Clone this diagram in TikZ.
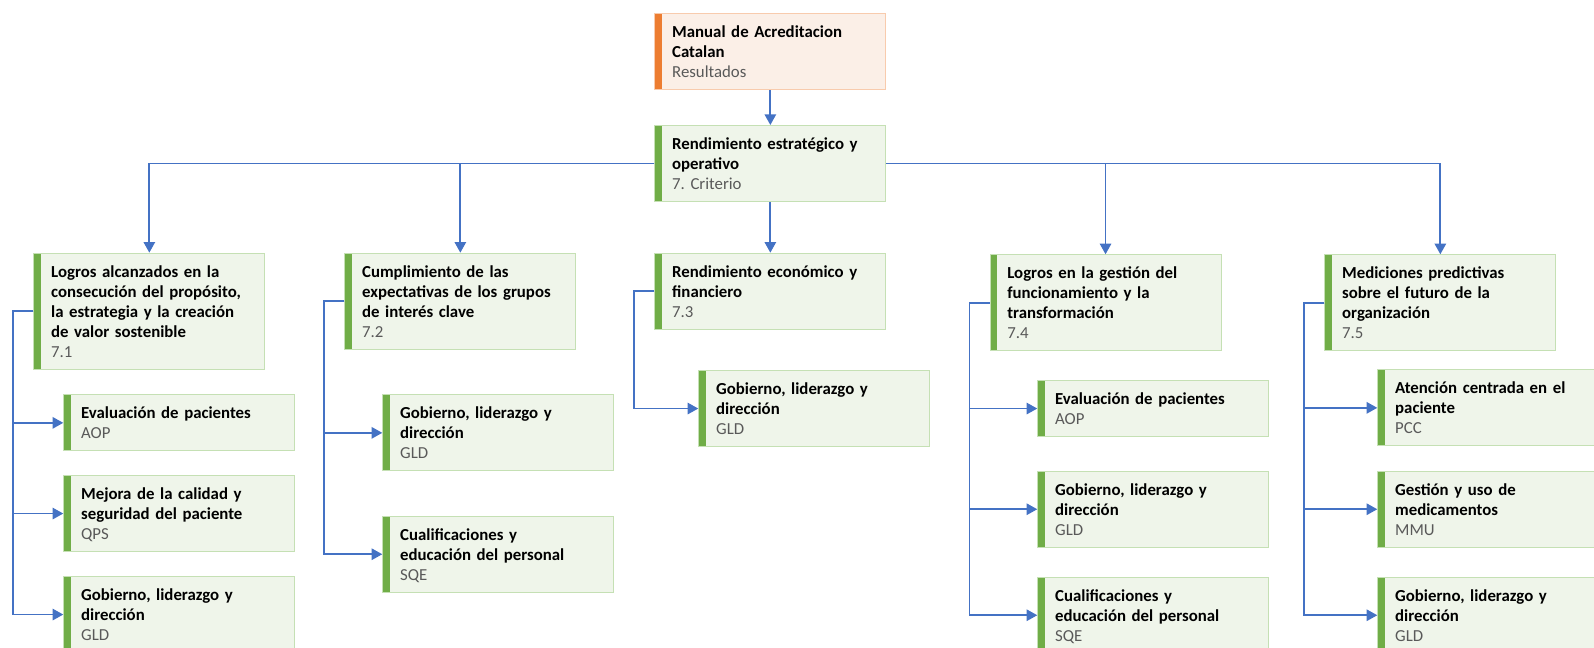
\documentclass[tikz,border=0pt]{standalone}
\usepackage{fontspec}
\setmainfont{Carlito}
\usetikzlibrary{arrows.meta}
\definecolor{obar}{HTML}{ED7D31}
\definecolor{ofill}{HTML}{FBEFE7}
\definecolor{oline}{HTML}{F8CBAD}
\definecolor{gbar}{HTML}{70AD47}
\definecolor{gfill}{HTML}{EFF5EA}
\definecolor{gline}{HTML}{C5E0B4}
\definecolor{conncol}{HTML}{4472C4}
\definecolor{subcol}{HTML}{595959}
\newcommand\myStrut{\rule[-3pt]{0pt}{15pt}}
\newcommand\Tline[1]{\myStrut\textbf{#1}}
\newcommand\Sline[1]{\myStrut\textcolor{subcol}{#1}}
\tikzset{
  card/.style={anchor=north west, inner xsep=13pt, inner ysep=0pt,
    text width=147.25pt, minimum width=173.25pt, align=left,
    font=\fontsize{12.6}{15}\selectfont\frenchspacing, line width=0.8pt},
  gbox/.style={card, fill=gfill, draw=gline,
    path picture={\fill[gbar] (path picture bounding box.north west) rectangle ([xshift=5pt]path picture bounding box.south west);}},
  obox/.style={card, fill=ofill, draw=oline,
    path picture={\fill[obar] (path picture bounding box.north west) rectangle ([xshift=5pt]path picture bounding box.south west);}},
  h2/.style={minimum height=42pt},
  h3/.style={minimum height=57pt},
  h4/.style={minimum height=72pt},
  h5/.style={minimum height=87pt},
  conn/.style={draw=conncol, line width=1.4pt, -{Triangle[width=8.5pt,length=8pt]}}
}
\begin{document}
\begin{tikzpicture}[x=0.75pt,y=-0.75pt]
\useasboundingbox (0,0) rectangle (1594,647);
% top
\node[obox,h3] (T) at (654.3,13.3) {\Tline{Manual de Acreditacion}\\\Tline{Catalan}\\\Sline{Resultados}};
\node[gbox,h3] (R) at (654.3,125) {\Tline{Rendimiento estratégico y}\\\Tline{operativo}\\\Sline{7. Criterio}};
% level 2
\node[gbox,h5] (A) at (33.3,252.7) {\Tline{Logros alcanzados en la}\\\Tline{consecución del propósito,}\\\Tline{la estrategia y la creación}\\\Tline{de valor sostenible}\\\Sline{7.1}};
\node[gbox,h4] (B) at (344.3,252.7) {\Tline{Cumplimiento de las}\\\Tline{expectativas de los grupos}\\\Tline{de interés clave}\\\Sline{7.2}};
\node[gbox,h3] (C) at (654.3,252.7) {\Tline{Rendimiento económico y}\\\Tline{financiero}\\\Sline{7.3}};
\node[gbox,h4] (D) at (989.5,254.3) {\Tline{Logros en la gestión del}\\\Tline{funcionamiento y la}\\\Tline{transformación}\\\Sline{7.4}};
\node[gbox,h4] (E) at (1324.3,254.3) {\Tline{Mediciones predictivas}\\\Tline{sobre el futuro de la}\\\Tline{organización}\\\Sline{7.5}};
% children of A
\node[gbox,h2] (A1) at (63.3,394.3) {\Tline{Evaluación de pacientes}\\\Sline{AOP}};
\node[gbox,h3] (A2) at (63.3,475) {\Tline{Mejora de la calidad y}\\\Tline{seguridad del paciente}\\\Sline{QPS}};
\node[gbox,h3] (A3) at (63.3,576) {\Tline{Gobierno, liderazgo y}\\\Tline{dirección}\\\Sline{GLD}};
% children of B
\node[gbox,h3] (B1) at (382.3,394.3) {\Tline{Gobierno, liderazgo y}\\\Tline{dirección}\\\Sline{GLD}};
\node[gbox,h3] (B2) at (382.3,515.7) {\Tline{Cualificaciones y}\\\Tline{educación del personal}\\\Sline{SQE}};
% child of C
\node[gbox,h3] (C1) at (698.3,370) {\Tline{Gobierno, liderazgo y}\\\Tline{dirección}\\\Sline{GLD}};
% children of D
\node[gbox,h2] (D1) at (1037.3,380) {\Tline{Evaluación de pacientes}\\\Sline{AOP}};
\node[gbox,h3] (D2) at (1037.3,470.7) {\Tline{Gobierno, liderazgo y}\\\Tline{dirección}\\\Sline{GLD}};
\node[gbox,h3] (D3) at (1037.3,576.7) {\Tline{Cualificaciones y}\\\Tline{educación del personal}\\\Sline{SQE}};
% children of E
\node[gbox,h3] (E1) at (1377.3,369.3) {\Tline{Atención centrada en el}\\\Tline{paciente}\\\Sline{PCC}};
\node[gbox,h3] (E2) at (1377.3,470.7) {\Tline{Gestión y uso de}\\\Tline{medicamentos}\\\Sline{MMU}};
\node[gbox,h3] (E3) at (1377.3,576.7) {\Tline{Gobierno, liderazgo y}\\\Tline{dirección}\\\Sline{GLD}};
% connectors
\draw[conn] (T.south) -- (R.north);
\draw[conn] (R.west) -| (A.north);
\draw[conn] (R.west) -| (B.north);
\draw[conn] (R.south) -- (C.north);
\draw[conn] (R.east) -| (D.north);
\draw[conn] (R.east) -| (E.north);
\foreach \p/\c in {A/A1,A/A2,A/A3,B/B1,B/B2,C/C1,D/D1,D/D2,D/D3,E/E1,E/E2,E/E3}{
  \draw[conn] (\p.west) -- ++(-20,0) |- (\c.west);
}
\end{tikzpicture}
\end{document}
